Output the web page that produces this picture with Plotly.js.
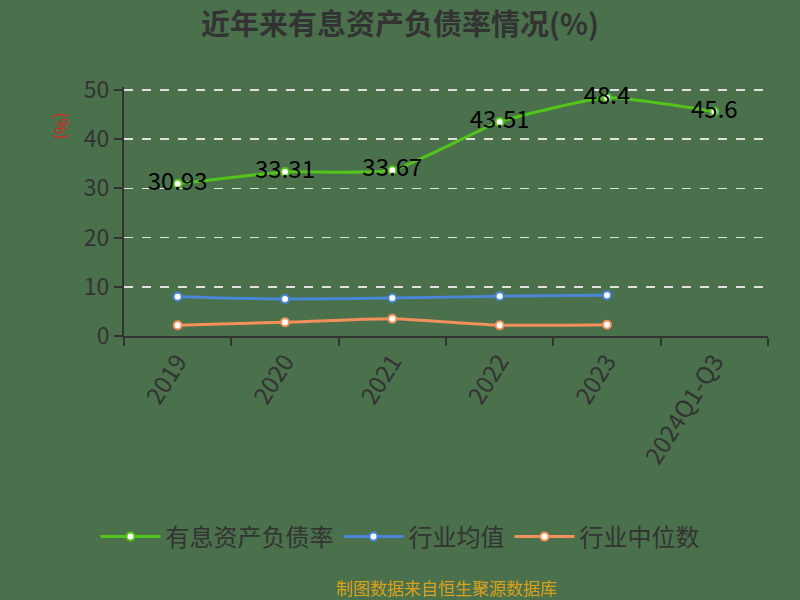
<!DOCTYPE html>
<html><head><meta charset="utf-8">
<script src="https://cdn.plot.ly/plotly-3.0.1.min.js"></script>
<style>body{margin:0;background:#4a704c}</style>
</head><body>
<div id="chart" style="width:800px;height:600px"></div>
<script>
var categories = ["2019","2020","2021","2022","2023","2024Q1-Q3"];
var debtRatio = [30.93, 33.31, 33.67, 43.51, 48.4, 45.6];
var industryAvg = [8.0, 7.5, 7.7, 8.1, 8.3];
var industryMedian = [2.2, 2.8, 3.5, 2.2, 2.3];
var yTicks = [0, 10, 20, 30, 40, 50];

var font = '"Noto Sans CJK SC", "Noto Sans", sans-serif';
var traces = [
  {x: categories, y: debtRatio, name: '有息资产负债率', mode: 'lines+markers+text',
   text: debtRatio.map(String), textposition: 'middle center',
   textfont: {size: 24, color: '#000', family: font},
   line: {color: '#52c41a', width: 3, shape: 'spline', smoothing: 0.5},
   marker: {size: 8, color: '#fff', line: {color: '#52c41a', width: 2}}},
  {x: categories.slice(0, 5), y: industryAvg, name: '行业均值', mode: 'lines+markers',
   line: {color: '#4a86d8', width: 3, shape: 'spline', smoothing: 0.5},
   marker: {size: 8, color: '#fff', line: {color: '#4a86d8', width: 2}}},
  {x: categories.slice(0, 5), y: industryMedian, name: '行业中位数', mode: 'lines+markers',
   line: {color: '#f4915a', width: 3, shape: 'spline', smoothing: 0.5},
   marker: {size: 8, color: '#fff', line: {color: '#f4915a', width: 2}}}
];
var topPx = 87, botPx = 264;
var plotH = 600 - topPx - botPx;
var layout = {
  width: 800, height: 600,
  paper_bgcolor: '#4a704c', plot_bgcolor: '#4a704c',
  margin: {l: 124, r: 32, t: topPx, b: botPx},
  font: {family: font, color: '#333'},
  title: {text: '<b>近年来有息资产负债率情况(%)</b>', x: 0.5, xanchor: 'center', y: 0.958, yanchor: 'middle',
          font: {size: 29, color: '#333', family: font}},
  xaxis: {type: 'category', range: [-0.5, 5.5], tickson: 'boundaries', ticks: 'outside', ticklen: 8,
          tickcolor: '#333', tickwidth: 2, showline: true, linecolor: '#333', linewidth: 2,
          showgrid: false, tickangle: -58, tickfont: {size: 24, color: '#333', family: font}},
  yaxis: {range: [0, 50.6], tickvals: yTicks, ticks: 'outside', ticklen: 8, tickcolor: '#333', tickwidth: 2,
          showline: true, linecolor: '#333', linewidth: 2, showgrid: true, gridcolor: '#e0e0e0', griddash: 'dash',
          gridwidth: 1.5, zeroline: false, tickfont: {size: 23, color: '#333', family: font}},
  showlegend: true,
  legend: {orientation: 'h', x: 0.5, xanchor: 'center', xref: 'container', y: 1 - 537 / 600, yref: 'container',
           yanchor: 'middle', font: {size: 24, color: '#333', family: font}, bgcolor: 'rgba(0,0,0,0)',
           itemwidth: 60},
  annotations: [
    {text: '(%)', xref: 'paper', yref: 'paper', x: -0.097, y: (336 - 126) / plotH, xanchor: 'center', yanchor: 'middle',
     showarrow: false, textangle: 90, font: {size: 17, color: '#e0201a', family: font}},
    {text: '制图数据来自恒生聚源数据库', xref: 'paper', yref: 'paper', x: 0.5,
     y: (336 - 587) / plotH, yanchor: 'middle', showarrow: false,
     font: {size: 17, color: '#d9a21b', family: font}}
  ]
};
Plotly.newPlot('chart', traces, layout, {displayModeBar: false, staticPlot: true});
</script>
</body></html>
